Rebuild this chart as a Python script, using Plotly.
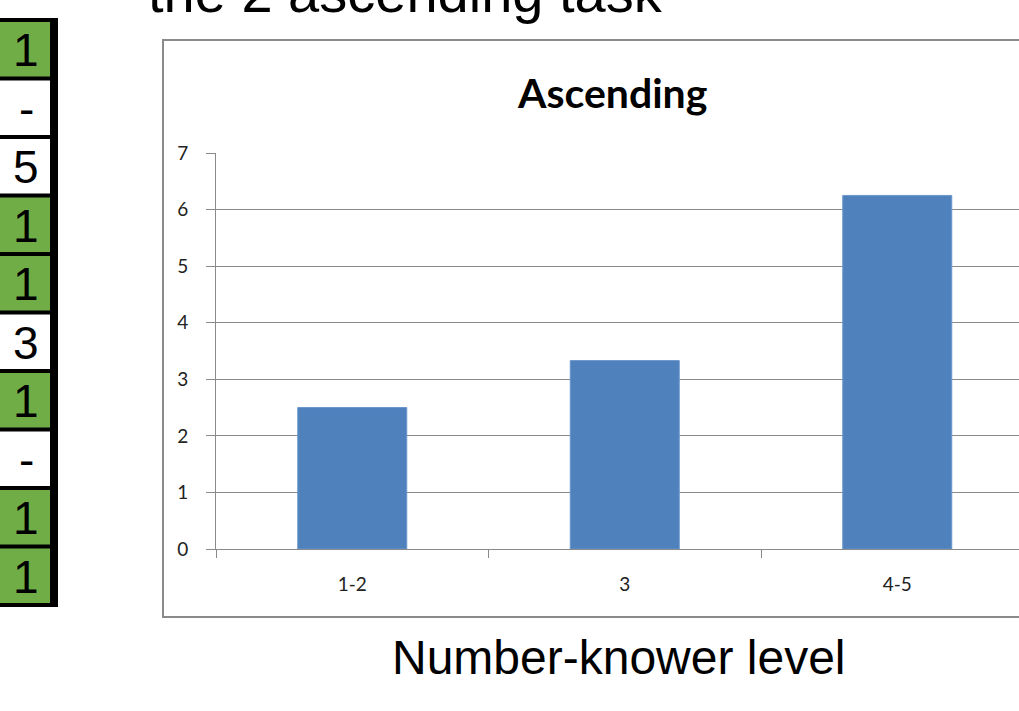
import plotly.graph_objects as go

# Chart data
levels = ["1-2", "3", "4-5"]
ascending = [2.5, 3.33, 6.25]
y_ticks = [0, 1, 2, 3, 4, 5, 6, 7]

# Side table column (partial slide content)
table_values = ["1", "-", "5", "1", "1", "3", "1", "-", "1", "1"]
table_green = [True, False, False, True, True, False, True, False, True, True]

W, H = 1019, 711
ML, MR, MT, MB = 216, 0, 153, 162
PW, PH = W - ML - MR, H - MT - MB


def px(x):
    return (x - ML) / PW


def py(y):
    return (H - MB - y) / PH


fig = go.Figure()
fig.add_trace(go.Bar(
    x=levels, y=ascending, width=0.4,
    marker=dict(color="#4F81BD", line=dict(color="#6A96CB", width=1)),
    hoverinfo="skip",
))

shapes = []
annotations = []

# Chart frame
shapes.append(dict(type="rect", xref="paper", yref="paper",
                   x0=px(163), x1=px(1080), y0=py(617), y1=py(40),
                   line=dict(color="#8A8A8A", width=2), fillcolor="rgba(0,0,0,0)",
                   layer="below"))

# Table cells on the left
row_top, row_h = 20, 58.5
for i, (val, green) in enumerate(zip(table_values, table_green)):
    y0 = row_top + i * row_h
    y1 = y0 + row_h
    shapes.append(dict(type="rect", xref="paper", yref="paper",
                       x0=px(-5), x1=px(52), y0=py(y1), y1=py(y0),
                       line=dict(width=0),
                       fillcolor="#70AD47" if green else "#FFFFFF"))
    annotations.append(dict(xref="paper", yref="paper", x=px(26), y=py((y0 + y1) / 2 + 1),
                            text=val, showarrow=False, xanchor="center", yanchor="middle",
                            font=dict(family="Liberation Sans, Arial", size=46, color="#000")))
# horizontal separators
for i in range(len(table_values) + 1):
    yy = row_top + i * row_h
    shapes.append(dict(type="line", xref="paper", yref="paper",
                       x0=px(-5), x1=px(58), y0=py(yy), y1=py(yy),
                       line=dict(color="#000", width=4)))
# vertical border
shapes.append(dict(type="line", xref="paper", yref="paper",
                   x0=px(54), x1=px(54), y0=py(row_top - 2),
                   y1=py(row_top + len(table_values) * row_h + 2),
                   line=dict(color="#000", width=8)))

# Chart title
annotations.append(dict(xref="paper", yref="paper", x=px(612), y=py(93),
                        text="<b>Ascending</b>", showarrow=False,
                        xanchor="center", yanchor="middle",
                        font=dict(family="Lato", size=41, color="#000")))
# Axis caption below the frame
annotations.append(dict(xref="paper", yref="paper", x=px(619), y=py(657),
                        text="Number-knower level", showarrow=False,
                        xanchor="center", yanchor="middle",
                        font=dict(family="Liberation Sans, Arial", size=48, color="#000")))
# Slide heading line running off the top
annotations.append(dict(xref="paper", yref="paper", x=px(146), y=py(26),
                        text="the 2 ascending task", showarrow=False,
                        xanchor="left", yanchor="bottom",
                        font=dict(family="Liberation Sans, Arial", size=56, color="#000")))

fig.update_layout(
    width=W, height=H,
    margin=dict(l=ML, r=MR, t=MT, b=MB, pad=0),
    paper_bgcolor="white", plot_bgcolor="white",
    showlegend=False,
    shapes=shapes, annotations=annotations,
    bargap=0.6,
)
fig.update_xaxes(
    type="category", range=[-0.5, -0.5 + PW / 272.5],
    showline=True, linecolor="#8A8A8A", linewidth=1,
    ticks="outside", tickson="boundaries", ticklen=8, tickcolor="#8A8A8A",
    showgrid=False, zeroline=False,
    tickfont=dict(family="Lato", size=19, color="#222"),
    ticklabelstandoff=18,
)
fig.update_yaxes(
    range=[0, 7], tickvals=y_ticks,
    showline=True, linecolor="#8A8A8A", linewidth=1,
    ticks="outside", ticklen=9, tickcolor="#8A8A8A",
    showgrid=True, gridcolor="#8A8A8A", gridwidth=1, zeroline=False,
    tickfont=dict(family="Lato", size=19, color="#222"),
    ticklabelstandoff=14,
)

fig.write_html("out.html")
